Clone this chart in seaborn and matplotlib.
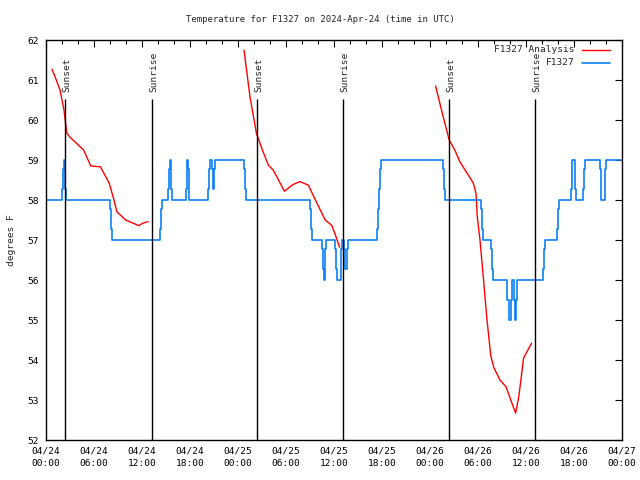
import numpy as np
import pandas as pd
import matplotlib
matplotlib.use("Agg")
import matplotlib.pyplot as plt
import matplotlib.dates as mdates
import seaborn as sns

START = pd.Timestamp("2024-04-24 00:00")

# observed temperature (step series), hours after start
obs_hours = [0.0, 2.0, 2.125, 2.25, 2.375, 2.5,
             8.0, 8.125, 8.25,
             14.25, 14.375, 14.5,
             15.25, 15.375, 15.5, 15.625, 15.75,
             17.5, 17.625, 17.75, 17.875,
             20.25, 20.375, 20.5, 20.75, 20.875, 21.0, 21.125,
             24.75, 24.875, 25.0,
             33.0, 33.125, 33.25,
             34.5, 34.625, 34.75, 34.875, 35.0,
             36.125, 36.25, 36.375, 36.875, 37.0,
             37.25, 37.375, 37.625, 37.75,
             41.375, 41.5, 41.625, 41.75, 41.875,
             49.625, 49.75, 49.875,
             54.375, 54.5, 54.625,
             55.625, 55.75, 55.875,
             57.625, 57.875, 58.125, 58.25, 58.5, 58.625, 58.75, 58.875,
             62.125, 62.25, 62.375,
             63.875, 64.0, 64.125,
             65.625, 65.75, 66.125, 66.25,
             67.125, 67.25, 67.375,
             69.25, 69.375, 69.875, 70.0,
             72.0]
obs_temps = [58, 58.27, 58.77, 59, 58.27, 58,
             57.77, 57.27, 57,
             57.27, 57.77, 58,
             58.27, 58.77, 59, 58.27, 58,
             58.27, 59, 58.77, 58,
             58.27, 58.77, 59, 58.77, 58.27, 58.77, 59,
             58.77, 58.27, 58,
             57.77, 57.27, 57,
             56.77, 56.27, 56, 56.77, 57,
             56.77, 56.27, 56, 56.77, 57,
             56.77, 56.27, 56.77, 57,
             57.27, 57.77, 58.27, 58.77, 59,
             58.77, 58.27, 58,
             57.77, 57.27, 57,
             56.77, 56.27, 56,
             55.5, 55, 55.5, 56, 55.5, 55, 55.5, 56,
             56.27, 56.77, 57,
             57.27, 57.77, 58,
             58.27, 59, 58.27, 58,
             58.27, 58.77, 59,
             58.77, 58, 58.77, 59,
             59]

# analysis temperature, three evening/night segments
ana1_hours = [0.75, 1.25, 1.75, 2.25, 2.6, 3.0, 3.8, 4.7, 5.6, 6.8, 7.9, 8.5, 8.85,
              9.95, 11.6, 12.1, 12.75]
ana1_temps = [61.27, 61.02, 60.75, 60.25, 59.67, 59.57, 59.42, 59.25, 58.85, 58.83,
              58.42, 58.0, 57.71, 57.5, 57.36, 57.42, 57.46]
ana2_hours = [24.75, 25.5, 26.3, 27.05, 27.8, 28.4, 28.75, 29.8, 30.9, 31.75, 32.8,
              33.8, 34.9, 35.7, 36.1, 36.7]
ana2_temps = [61.75, 60.58, 59.67, 59.25, 58.87, 58.75, 58.62, 58.22, 58.39, 58.46,
              58.37, 57.95, 57.5, 57.37, 57.17, 56.82]
ana3_hours = [48.7, 49.5, 50.4, 51.1, 51.75, 52.8, 53.4, 53.75, 53.9, 54.25, 54.65,
              55.1, 55.6, 56.0, 56.75, 57.5, 58.1, 58.7, 59.1, 59.7, 60.7]
ana3_temps = [60.85, 60.2, 59.5, 59.25, 58.95, 58.62, 58.43, 58.17, 57.6, 57.0, 56.1,
              55.05, 54.1, 53.8, 53.5, 53.33, 53.0, 52.67, 53.08, 54.05, 54.42]

sun_hours = [2.41, 13.19, 26.41, 37.16, 50.4, 61.08]
sun_labels = ["Sunset", "Sunrise", "Sunset", "Sunrise", "Sunset", "Sunrise"]


def to_time(hours):
    return START + pd.to_timedelta(np.array(hours), unit="h")


obs = pd.DataFrame({"time": to_time(obs_hours), "temp": obs_temps})
ana = pd.concat([
    pd.DataFrame({"time": to_time(h), "temp": t, "seg": i})
    for i, (h, t) in enumerate([(ana1_hours, ana1_temps),
                                (ana2_hours, ana2_temps),
                                (ana3_hours, ana3_temps)])
])

sns.set_theme(style="white")
plt.rcParams["font.family"] = ["DejaVu Sans Mono"]
FS = 6.8

fig = plt.figure(figsize=(6.4, 4.8), dpi=100)
ax = fig.add_axes([46 / 640, 40 / 480, 576 / 640, 400 / 480])

red = "#ff0000"
blue = "#0a80f5"

sns.lineplot(data=ana, x="time", y="temp", units="seg", estimator=None,
             color=red, linewidth=1, ax=ax, legend=False)
sns.lineplot(data=obs, x="time", y="temp", estimator=None, drawstyle="steps-post",
             color=blue, linewidth=1.2, ax=ax, legend=False)

# sunrise / sunset markers
sun_times = to_time(sun_hours)
ax.vlines(sun_times, 52, 60.53, color="black", linewidth=1)
for t, lab in zip(sun_times, sun_labels):
    ax.annotate(lab, (t, 60.71), xytext=(1.5, 0), textcoords="offset points",
                rotation=90, ha="center", va="bottom", fontsize=FS)

ax.set_xlim(START, START + pd.Timedelta(hours=72))
ax.set_ylim(52, 62)
ax.set_yticks(range(52, 63))
ax.xaxis.set_major_locator(mdates.HourLocator(byhour=[0, 6, 12, 18]))
ax.xaxis.set_minor_locator(mdates.HourLocator(byhour=range(0, 24, 2)))
ax.xaxis.set_major_formatter(mdates.DateFormatter("%m/%d\n%H:%M"))
ax.tick_params(which="both", direction="in", top=True, right=True, colors="black",
               labelsize=FS, width=0.8)
ax.tick_params(which="major", length=5, pad=5)
ax.tick_params(which="minor", length=3)
for lab in ax.get_xticklabels():
    lab.set_linespacing(1.5)
for s in ax.spines.values():
    s.set_color("black")
    s.set_linewidth(1)

ax.set_xlabel("")
ax.set_ylabel("degrees F", fontsize=FS, labelpad=8)
fig.text(0.5, 1 - 20 / 480, "Temperature for F1327 on 2024-Apr-24 (time in UTC)",
         ha="center", va="center", fontsize=6.5)

# legend, drawn gnuplot style
ax.plot([0.9306, 0.979], [0.975, 0.975], color=red, linewidth=1, transform=ax.transAxes)
ax.plot([0.9306, 0.979], [0.9425, 0.9425], color=blue, linewidth=1.2, transform=ax.transAxes)
ax.text(0.918, 0.975, "F1327 Analysis", transform=ax.transAxes, ha="right", va="center",
        fontsize=FS)
ax.text(0.918, 0.9425, "F1327", transform=ax.transAxes, ha="right", va="center",
        fontsize=FS)

fig.savefig("out.png", dpi=100)
